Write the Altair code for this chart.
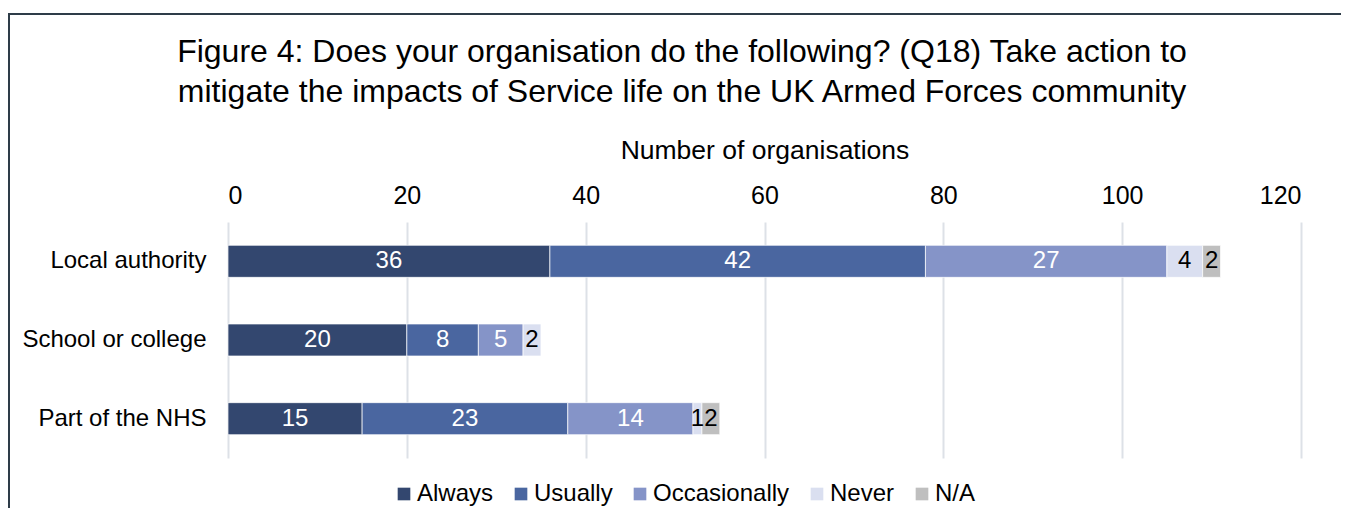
import altair as alt
import pandas as pd

categories = ["Local authority", "School or college", "Part of the NHS"]
series = ["Always", "Usually", "Occasionally", "Never", "N/A"]
always = [36, 20, 15]
usually = [42, 8, 23]
occasionally = [27, 5, 14]
never = [4, 2, 1]
na = [2, 0, 2]
colors = ["#33476f", "#4a66a0", "#8594c8", "#dadff0", "#bfbfbf"]
x_ticks = [0, 20, 40, 60, 80, 100, 120]
title_lines = ["Figure 4: Does your organisation do the following? (Q18) Take action to",
               "mitigate the impacts of Service life on the UK Armed Forces community"]

rows = []
for si, (s, vals) in enumerate(zip(series, [always, usually, occasionally, never, na])):
    for c, v in zip(categories, vals):
        if v > 0:
            rows.append({"category": c, "series": s, "order": si, "value": v})
df = pd.DataFrame(rows)
one = pd.DataFrame({"k": [0]})

FONT = "Liberation Sans"

base = alt.Chart(df).transform_stack(
    stack="value", groupby=["category"], as_=["x0", "x1"],
    sort=[alt.SortField("order", order="ascending")]
).transform_calculate(
    mid="(datum.x0 + datum.x1) / 2",
    tc="datum.order < 3 ? 'white' : 'black'"
)

y_enc = alt.Y("category:N", sort=categories, title=None,
              scale=alt.Scale(paddingInner=0.593, paddingOuter=0.2965),
              axis=alt.Axis(domain=False, ticks=False, labelFontSize=24, labelLimit=400,
                            labelColor="black", labelFont=FONT, labelPadding=22))

bars = base.mark_bar(stroke="white", strokeWidth=0.7).encode(
    x=alt.X("x0:Q", scale=alt.Scale(domain=[0, 120], nice=False),
            title="Number of organisations",
            axis=alt.Axis(orient="top", values=x_ticks, domain=False, ticks=False,
                          grid=True, gridColor="#dde1e7", gridWidth=2,
                          labelFontSize=25, labelColor="black", labelFont=FONT,
                          labelPadding=14, titleFontSize=26.5, titleFontWeight="normal",
                          titleColor="black", titleFont=FONT, titlePadding=19)),
    x2="x1:Q",
    y=y_enc,
    color=alt.Color("series:N", scale=alt.Scale(domain=series, range=colors),
                    legend=alt.Legend(title=None, orient="none", direction="horizontal",
                                      legendX=164, legendY=260, symbolType="square",
                                      symbolSize=160, symbolStrokeWidth=0,
                                      labelFontSize=24, labelFont=FONT, labelColor="black",
                                      labelOffset=1, columnPadding=15)),
    order=alt.Order("order:Q"),
)

labels = base.mark_text(fontSize=24, font=FONT).encode(
    x="mid:Q",
    y=alt.Y("category:N", sort=categories),
    text="value:Q",
    color=alt.Color("tc:N", scale=None),
)

border = alt.Chart(one).mark_rect(filled=False, stroke="#2e3c48", strokeWidth=2).encode(
    x=alt.value(-219), x2=alt.value(1200), y=alt.value(-208), y2=alt.value(400)
)

title = alt.Chart(one).mark_text(
    fontSize=32, font=FONT, color="black", align="center", baseline="middle", lineHeight=40
).encode(
    x=alt.value(454), y=alt.value(-170), text=alt.value(title_lines)
)

chart = alt.layer(border, title, bars, labels).properties(
    width=1073, height=236,
    padding={"left": 220, "top": 214, "right": 40, "bottom": 50},
    autosize=alt.AutoSizeParams(type="none"),
).configure_view(stroke=None)

chart.save("out.html", embed_options={"renderer": "svg", "actions": False})
